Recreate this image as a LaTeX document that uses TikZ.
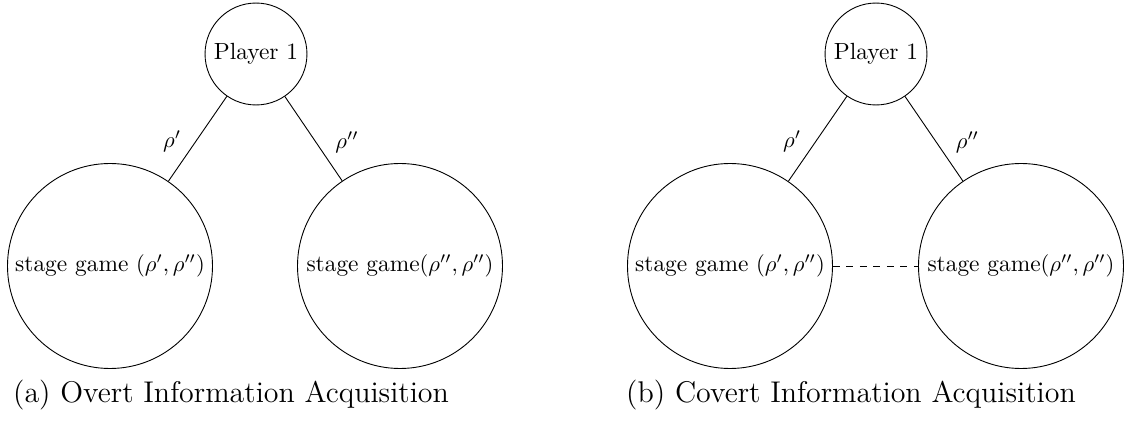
\documentclass[tikz,border=0pt]{standalone}
\begin{document}
\begin{tikzpicture}[x=0.4444pt, y=-0.4444pt,
  every node/.style={font=\fontsize{10.4}{12.5}\selectfont},
  player/.style={draw, circle, minimum size=45.3pt, inner sep=1pt},
  stagebox/.style={draw, circle, minimum size=91.1pt, inner sep=0.5pt},
  caption/.style={font=\fontsize{13.3}{16}\selectfont, inner sep=0pt},
  link/.style={draw, line width=0.4pt},
  lbl/.style={inner sep=0pt}]
\useasboundingbox (0,0) rectangle (1128,421);

% (a) overt acquisition
\node[player]   (pa) at (256,54)  {Player 1};
\node[stagebox] (la) at (110,266) {stage game $(\rho',\rho'')$};
\node[stagebox] (ra) at (400,266) {stage game$(\rho'',\rho'')$};
\draw[link] (pa) -- node[lbl, midway, xshift=-11.3pt, yshift=-1.3pt] {$\rho'$} (la);
\draw[link] (pa) -- node[lbl, midway, xshift=14.9pt, yshift=-1.5pt] {$\rho''$} (ra);
\node[caption] (capa) at (231,395) {(a) Overt Information Acquisition};

% (b) covert acquisition
\node[player]   (pb) at (876,54)  {Player 1};
\node[stagebox] (lb) at (730,266) {stage game $(\rho',\rho'')$};
\node[stagebox] (rb) at (1021,266) {stage game$(\rho'',\rho'')$};
\draw[link] (pb) -- node[lbl, midway, xshift=-11.3pt, yshift=-1.3pt] {$\rho'$} (lb);
\draw[link] (pb) -- node[lbl, midway, xshift=14.9pt, yshift=-1.5pt] {$\rho''$} (rb);
\draw[link, dashed] (lb) -- (rb);
\node[caption] (capb) at (851,395) {(b) Covert Information Acquisition};
\end{tikzpicture}
\end{document}
